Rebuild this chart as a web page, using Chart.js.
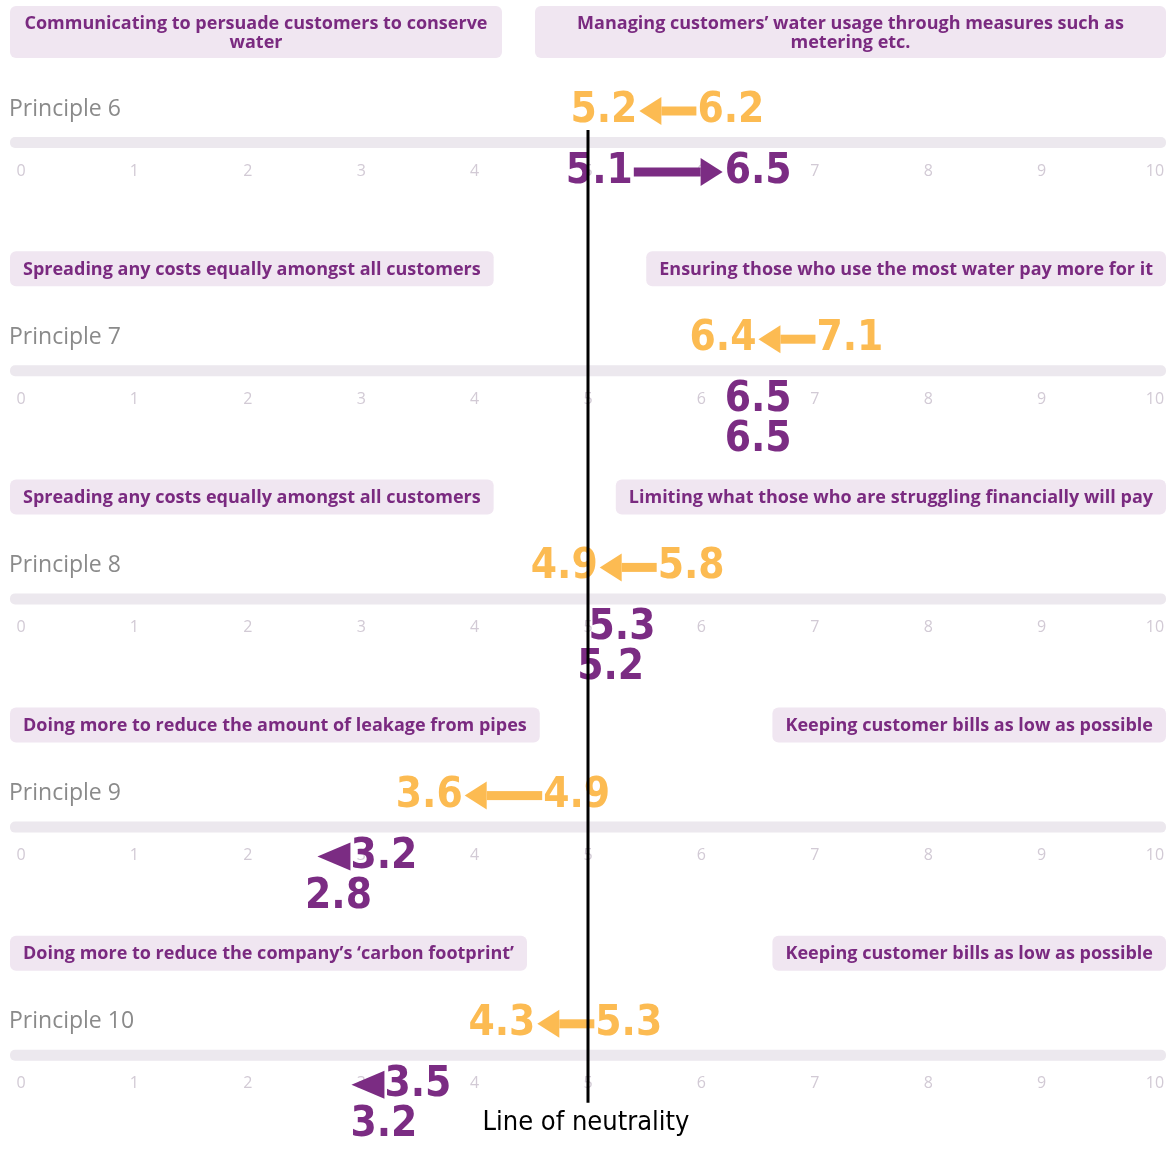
<!DOCTYPE html>
<html>
<head>
<meta charset="utf-8">
<script src="https://cdn.jsdelivr.net/npm/chart.js@4/dist/chart.umd.min.js"></script>
<style>
  html, body { margin: 0; padding: 0; background: #fff; }
  #wrap { position: relative; width: 1169px; height: 1151px; }
</style>
</head>
<body>
<div id="wrap"><canvas id="principlesChart"></canvas></div>
<script>
// Scores per principle, 0-10 scale
const principles = ['Principle 6', 'Principle 7', 'Principle 8', 'Principle 9', 'Principle 10'];
const leftStatements = [
    'Communicating to persuade customers to conserve\nwater',
    'Spreading any costs equally amongst all customers',
    'Spreading any costs equally amongst all customers',
    'Doing more to reduce the amount of leakage from pipes',
    'Doing more to reduce the company\u2019s \u2018carbon footprint\u2019'
];
const rightStatements = [
    'Managing customers\u2019 water usage through measures such as\nmetering etc.',
    'Ensuring those who use the most water pay more for it',
    'Limiting what those who are struggling financially will pay',
    'Keeping customer bills as low as possible',
    'Keeping customer bills as low as possible'
];
const orangeFrom = [6.2, 7.1, 5.8, 4.9, 5.3];
const orangeTo = [5.2, 6.4, 4.9, 3.6, 4.3];
const purpleFrom = [5.1, 6.5, 5.3, 3.2, 3.5];
const purpleTo = [6.5, 6.5, 5.2, 2.8, 3.2];
const tickValues = [0, 1, 2, 3, 4, 5, 6, 7, 8, 9, 10];
const neutralValue = 5;

const ORANGE = '#fcbb52';
const PURPLE = '#7b2c83';
const valueFont = 'bold 42px "DejaVu Sans Condensed", "DejaVu Sans", sans-serif';

function drawArrow(ctx, tailX, tipX, y, color, headOnly) {
    const dir = Math.sign(tipX - tailX);
    const headLen = headOnly ? Math.abs(tipX - tailX) : 22;
    const headH = 14, shaft = 4.5;
    const baseX = tipX - dir * headLen;
    ctx.fillStyle = color;
    if (!headOnly) {
        ctx.fillRect(Math.min(tailX, baseX), y - shaft, Math.abs(baseX - tailX), shaft * 2);
    }
    ctx.beginPath();
    ctx.moveTo(tipX, y);
    ctx.lineTo(baseX, y - headH);
    ctx.lineTo(baseX, y + headH);
    ctx.closePath();
    ctx.fill();
}

// Two scores: same row with an arrow when far apart, stacked otherwise
function drawPair(ctx, xs, from, to, y, rowGap, color) {
    ctx.font = valueFont;
    ctx.textAlign = 'center';
    ctx.textBaseline = 'middle';
    ctx.fillStyle = color;
    const fromTxt = from.toFixed(1), toTxt = to.toFixed(1);
    const wF = ctx.measureText(fromTxt).width;
    const wT = ctx.measureText(toTxt).width;
    let cF = xs.getPixelForValue(from);
    let cT = xs.getPixelForValue(to);
    const diff = to - from;
    const dir = diff < 0 ? -1 : 1;

    if (Math.abs(diff) >= 0.5) {
        const minGap = (wF + wT) / 2 + 60;
        const gap = Math.abs(cT - cF);
        if (gap < minGap) {
            const push = (minGap - gap) / 2;
            cF -= dir * push;
            cT += dir * push;
        }
        ctx.fillText(fromTxt, cF, y);
        ctx.fillText(toTxt, cT, y);
        drawArrow(ctx, cF + dir * (wF / 2 + 1), cT - dir * (wT / 2 + 2), y, color, false);
    } else {
        ctx.fillText(fromTxt, cF, y);
        ctx.fillText(toTxt, cT, y + rowGap);
        if (Math.abs(diff) >= 0.25) {
            const base = cF + dir * (wF / 2);
            drawArrow(ctx, base, base + dir * 33, y, color, true);
        }
    }
}

function statementBox(ctx, text, x, bottom, alignRight) {
    const lines = text.split('\n');
    ctx.font = 'bold 18px "Open Sans", sans-serif';
    const textW = Math.max(...lines.map(l => ctx.measureText(l).width));
    let w = textW + 26;
    if (lines.length > 1) w = alignRight ? 631 : 492;
    const h = lines.length > 1 ? 52 : 35;
    const left = alignRight ? x - w : x;
    ctx.fillStyle = '#f0e6f1';
    ctx.beginPath();
    ctx.roundRect(left, bottom - h, w, h, 6);
    ctx.fill();
    ctx.fillStyle = '#7a2a80';
    ctx.textAlign = 'center';
    ctx.textBaseline = 'middle';
    const lh = 19;
    const y0 = bottom - h / 2 - (lines.length - 1) * lh / 2 + 1;
    lines.forEach((l, i) => ctx.fillText(l, left + w / 2, y0 + i * lh));
}

const panelPlugin = {
    id: 'principlePanels',
    afterDatasetsDraw(chart) {
        const ctx = chart.ctx;
        const xs = chart.scales.x, ys = chart.scales.y;
        const area = chart.chartArea;
        ctx.save();

        principles.forEach((name, i) => {
            const top = ys.getPixelForValue(i);

            statementBox(ctx, leftStatements[i], area.left - 11, top + 58, false);
            statementBox(ctx, rightStatements[i], area.right + 11, top + 58, true);

            ctx.font = '23px "Open Sans", sans-serif';
            ctx.fillStyle = '#8a8a8a';
            ctx.textAlign = 'left';
            ctx.textBaseline = 'middle';
            ctx.fillText(name, area.left - 12, top + 109);

            // track
            ctx.fillStyle = '#ece8ee';
            ctx.beginPath();
            ctx.roundRect(area.left - 11, top + 137, area.right - area.left + 22, 11, 5);
            ctx.fill();

            ctx.font = '16px "Open Sans", sans-serif';
            ctx.fillStyle = '#d2cad5';
            ctx.textAlign = 'center';
            tickValues.forEach(t => ctx.fillText(String(t), xs.getPixelForValue(t), top + 171));

            drawPair(ctx, xs, orangeFrom[i], orangeTo[i], top + 111, 40, ORANGE);
            drawPair(ctx, xs, purpleFrom[i], purpleTo[i], top + 172, 40, PURPLE);
        });

        // line of neutrality
        const nx = xs.getPixelForValue(neutralValue);
        const lastTop = ys.getPixelForValue(principles.length - 1);
        ctx.strokeStyle = '#000';
        ctx.lineWidth = 3;
        ctx.beginPath();
        ctx.moveTo(nx, ys.getPixelForValue(0) + 130);
        ctx.lineTo(nx, lastTop + 190);
        ctx.stroke();

        ctx.font = '27px "DejaVu Sans Condensed", "DejaVu Sans", sans-serif';
        ctx.fillStyle = '#000';
        ctx.textAlign = 'center';
        ctx.textBaseline = 'middle';
        ctx.fillText('Line of neutrality', nx - 2, lastTop + 210);

        ctx.restore();
    }
};

new Chart(document.getElementById('principlesChart'), {
    type: 'scatter',
    data: { datasets: [] },
    options: {
        responsive: true,
        maintainAspectRatio: false,
        animation: false,
        layout: { padding: { left: 21, right: 14, top: 0, bottom: 10 } },
        scales: {
            x: { type: 'linear', min: 0, max: 10, display: false },
            y: { type: 'linear', min: 0, max: 5, reverse: true, display: false }
        },
        plugins: {
            legend: { display: false },
            tooltip: { enabled: false }
        }
    },
    plugins: [panelPlugin]
});
</script>
</body>
</html>
